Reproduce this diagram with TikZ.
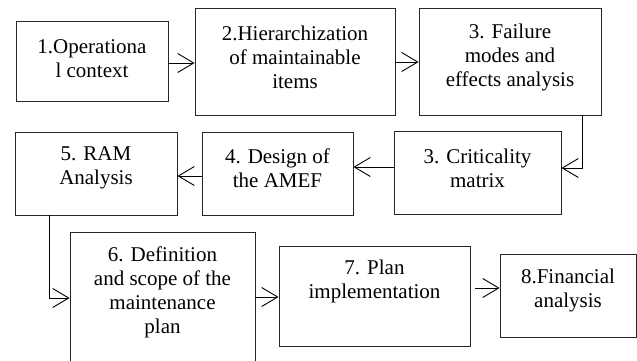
\documentclass[tikz,border=0pt]{standalone}
\usepackage{fontspec}
\setmainfont{Liberation Serif}
\usetikzlibrary{arrows.meta}
\begin{document}
\begin{tikzpicture}[x=1pt,y=-1pt,
  box/.style={draw=black!85, line width=0.9pt, rectangle, inner sep=0pt},
  lbl/.style={align=center, inner sep=0pt, font=\fontsize{21}{24}\selectfont},
  arr/.style={draw=black, line width=0.9pt, -{Straight Barb[length=16pt,width=19pt,line width=0.9pt]}}]
\clip (0,0) rectangle (637,360);
\fill[white] (0,0) rectangle (637,360);
% boxes
\node[box, minimum width=152pt, minimum height=80pt] (b1) at (92,61) {};
\node[box, minimum width=200pt, minimum height=107pt] (b2) at (295,61.5) {};
\node[box, minimum width=182pt, minimum height=107pt] (b3) at (510,61.5) {};
\node[box, minimum width=167pt, minimum height=83pt] (b4) at (477.5,172.5) {};
\node[box, minimum width=151pt, minimum height=83pt] (b5) at (277.5,173.5) {};
\node[box, minimum width=162pt, minimum height=83pt] (b6) at (96,173.5) {};
\node[box, minimum width=185pt, minimum height=133pt] (b7) at (162.5,298.5) {};
\node[box, minimum width=191pt, minimum height=100pt] (b8) at (374.5,296) {};
\node[box, minimum width=136pt, minimum height=83pt] (b9) at (568,295.5) {};
% labels
\node[lbl] (t1) at (92,58.5) {1.Operationa\\l context};
\node[lbl] (t2) at (295,57) {2.Hierarchization\\of maintainable\\items};
\node[lbl] (t3) at (510,57) {3. Failure\\modes and\\effects analysis};
\node[lbl] (t4) at (477.5,168) {3. Criticality\\matrix};
\node[lbl] (t5) at (277.5,168) {4. Design of\\the AMEF};
\node[lbl] (t6) at (96,168) {5. RAM\\Analysis};
\node[lbl] (t7) at (162.5,292) {6. Definition\\and scope of the\\maintenance\\plan};
\node[lbl] (t8) at (374.5,281.5) {7. Plan\\implementation};
\node[lbl] (t9) at (568,290) {8.Financial\\analysis};
% connectors
\draw[arr] (b1.east |- 0,63) -- (b2.west |- 0,63);
\draw[arr] (b2.east |- 0,62) -- (b3.west |- 0,62);
\draw[arr] (b3.south -| 582,0) |- (b4.east |- 0,168);
\draw[arr] (b4.west |- 0,167) -- (b5.east |- 0,167);
\draw[arr] (b5.west |- 0,176) -- (b6.east |- 0,176);
\draw[arr] (b6.south -| 49,0) |- (b7.west |- 0,298);
\draw[arr] (b7.east |- 0,297) -- (b8.west |- 0,297);
\draw[arr] ([xshift=5pt]b8.east |- 0,288) -- (b9.west |- 0,288);
\end{tikzpicture}
\end{document}
